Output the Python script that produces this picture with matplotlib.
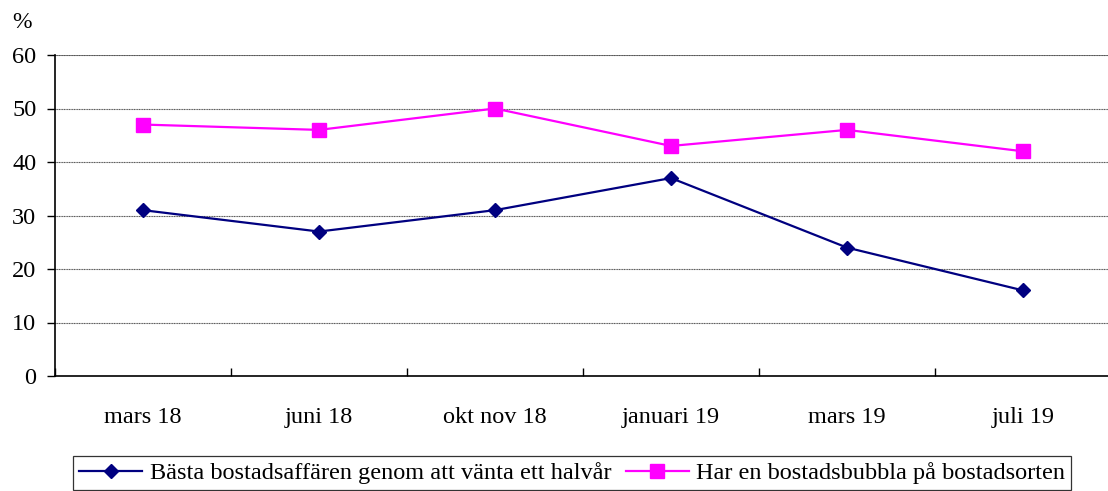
import matplotlib.pyplot as plt
from matplotlib.ticker import MultipleLocator, FixedLocator

plt.rcParams['font.family'] = ['Liberation Serif', 'DejaVu Serif']

# data
categories = ['mars 18', 'juni 18', 'okt nov 18', 'januari 19', 'mars 19', 'juli 19']
basta = [31, 27, 31, 37, 24, 16]
bubbla = [47, 46, 50, 43, 46, 42]
labels = ['Bästa bostadsaffären genom att vänta ett halvår',
          'Har en bostadsbubbla på bostadsorten']

fig = plt.figure(figsize=(11.08, 4.91), dpi=100)
ax = fig.add_axes([55 / 1108, 1 - 376 / 491, 1056 / 1108, 321 / 491])

x = list(range(len(categories)))
ax.plot(x, basta, color='#000080', lw=1.6, marker='D', ms=7.5, label=labels[0])
ax.plot(x, bubbla, color='#FF00FF', lw=1.6, marker='s', ms=10.5, label=labels[1])

ax.set_xlim(-0.5, len(categories) - 0.5)
ax.set_ylim(0, 60)
ax.yaxis.set_major_locator(MultipleLocator(10))
ax.set_xticks(x)
ax.set_xticklabels(categories)
ax.xaxis.set_minor_locator(FixedLocator([i - 0.5 for i in range(len(categories) + 1)]))
ax.tick_params(axis='x', which='major', length=0, pad=22, labelsize=17.5)
ax.tick_params(axis='x', which='minor', length=6, direction='in', width=1)
ax.tick_params(axis='y', length=6, width=1, labelsize=17.5, pad=7.5)

ax.grid(axis='y', color='#555555', lw=0.8, ls=(0, (1, 0.5)))
ax.set_axisbelow(True)
for side in ['top', 'right']:
    ax.spines[side].set_visible(False)
ax.spines['left'].set_linewidth(1.2)
ax.spines['bottom'].set_linewidth(1.2)
# top gridline is solid grey in the original
ax.axhline(60, color='#888888', lw=1.2, zorder=0)

fig.text(12 / 1108, 1 - 22 / 491, '%', fontsize=17, va='center', ha='left')

leg = fig.legend(loc='upper left', bbox_to_anchor=(73 / 1108, 1 - 456 / 491), ncol=2,
                 fontsize=17.5, frameon=True, fancybox=False, handlelength=2.6,
                 handletextpad=0.3, columnspacing=0.6, borderpad=0.25, borderaxespad=0)
leg.get_frame().set_edgecolor('black')
leg.get_frame().set_linewidth(0.9)

fig.savefig('out.png', dpi=100)
